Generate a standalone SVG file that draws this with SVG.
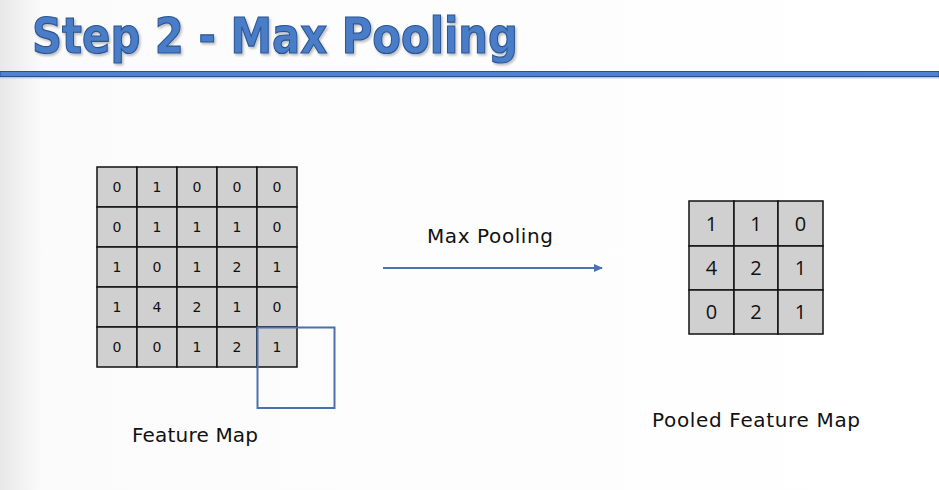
<svg xmlns="http://www.w3.org/2000/svg" width="939" height="490" viewBox="0 0 939 490">
<defs>
<linearGradient id="bg" x1="0" y1="0" x2="1" y2="0">
<stop offset="0" stop-color="#e8e8e8"/>
<stop offset="0.045" stop-color="#fbfbfb"/>
<stop offset="1" stop-color="#ffffff"/>
</linearGradient>
<marker id="ah" markerWidth="10" markerHeight="10" refX="8" refY="4" orient="auto" markerUnits="userSpaceOnUse">
<path d="M0,0 L9,4 L0,8 Z" fill="#4a72b5"/>
</marker>
<filter id="sh" filterUnits="userSpaceOnUse" x="0" y="0" width="600" height="70">
<feDropShadow dx="1.5" dy="2" stdDeviation="1.2" flood-color="#000" flood-opacity="0.25"/>
</filter>
</defs>
<style>
.cell{fill:#d0d0d0;stroke:#111;stroke-width:1.5}
.fd{font-family:"DejaVu Sans",sans-serif;font-size:14px;fill:#111;text-anchor:middle}
.pd{font-family:"Open Sans","Liberation Sans",sans-serif;font-size:20px;fill:#111;text-anchor:middle}
.lbl{font-family:"DejaVu Sans",sans-serif;font-size:20px;fill:#111}
</style>
<rect width="939" height="490" fill="url(#bg)"/>
<g id="title">
<text x="32" y="53" font-family="'DejaVu Sans',sans-serif" font-weight="bold" font-size="49" textLength="486" lengthAdjust="spacingAndGlyphs" fill="#4a7dc7" stroke="#2b5592" stroke-width="1.2" filter="url(#sh)">Step 2 - Max Pooling</text>
<rect x="0" y="71.5" width="939" height="5" fill="#4f82d2" stroke="#2a4e8e" stroke-width="1"/>
<rect x="0" y="77" width="939" height="1.5" fill="#b9cbe6"/>
</g>
<g id="feature-map">
<rect class="cell" x="97" y="167" width="40" height="40"/><rect class="cell" x="137" y="167" width="40" height="40"/><rect class="cell" x="177" y="167" width="40" height="40"/><rect class="cell" x="217" y="167" width="40" height="40"/><rect class="cell" x="257" y="167" width="40" height="40"/>
<rect class="cell" x="97" y="207" width="40" height="40"/><rect class="cell" x="137" y="207" width="40" height="40"/><rect class="cell" x="177" y="207" width="40" height="40"/><rect class="cell" x="217" y="207" width="40" height="40"/><rect class="cell" x="257" y="207" width="40" height="40"/>
<rect class="cell" x="97" y="247" width="40" height="40"/><rect class="cell" x="137" y="247" width="40" height="40"/><rect class="cell" x="177" y="247" width="40" height="40"/><rect class="cell" x="217" y="247" width="40" height="40"/><rect class="cell" x="257" y="247" width="40" height="40"/>
<rect class="cell" x="97" y="287" width="40" height="40"/><rect class="cell" x="137" y="287" width="40" height="40"/><rect class="cell" x="177" y="287" width="40" height="40"/><rect class="cell" x="217" y="287" width="40" height="40"/><rect class="cell" x="257" y="287" width="40" height="40"/>
<rect class="cell" x="97" y="327" width="40" height="40"/><rect class="cell" x="137" y="327" width="40" height="40"/><rect class="cell" x="177" y="327" width="40" height="40"/><rect class="cell" x="217" y="327" width="40" height="40"/><rect class="cell" x="257" y="327" width="40" height="40"/>
<text class="fd" x="117" y="192">0</text><text class="fd" x="157" y="192">1</text><text class="fd" x="197" y="192">0</text><text class="fd" x="237" y="192">0</text><text class="fd" x="277" y="192">0</text>
<text class="fd" x="117" y="232">0</text><text class="fd" x="157" y="232">1</text><text class="fd" x="197" y="232">1</text><text class="fd" x="237" y="232">1</text><text class="fd" x="277" y="232">0</text>
<text class="fd" x="117" y="272">1</text><text class="fd" x="157" y="272">0</text><text class="fd" x="197" y="272">1</text><text class="fd" x="237" y="272">2</text><text class="fd" x="277" y="272">1</text>
<text class="fd" x="117" y="312">1</text><text class="fd" x="157" y="312">4</text><text class="fd" x="197" y="312">2</text><text class="fd" x="237" y="312">1</text><text class="fd" x="277" y="312">0</text>
<text class="fd" x="117" y="352">0</text><text class="fd" x="157" y="352">0</text><text class="fd" x="197" y="352">1</text><text class="fd" x="237" y="352">2</text><text class="fd" x="277" y="352">1</text>
<rect x="257.5" y="327.5" width="77" height="80.5" fill="none" stroke="#4a70b0" stroke-width="2"/>
<text class="lbl" x="132" y="442" textLength="126">Feature Map</text>
</g>
<g id="pooled-map">
<rect class="cell" x="689" y="201" width="45" height="45"/><rect class="cell" x="734" y="201" width="44" height="45"/><rect class="cell" x="778" y="201" width="45" height="45"/>
<rect class="cell" x="689" y="246" width="45" height="44"/><rect class="cell" x="734" y="246" width="44" height="44"/><rect class="cell" x="778" y="246" width="45" height="44"/>
<rect class="cell" x="689" y="290" width="45" height="44"/><rect class="cell" x="734" y="290" width="44" height="44"/><rect class="cell" x="778" y="290" width="45" height="44"/>
<text class="pd" x="711.5" y="230.5">1</text><text class="pd" x="756" y="230.5">1</text><text class="pd" x="800.5" y="230.5">0</text>
<text class="pd" x="711.5" y="275">4</text><text class="pd" x="756" y="275">2</text><text class="pd" x="800.5" y="275">1</text>
<text class="pd" x="711.5" y="319">0</text><text class="pd" x="756" y="319">2</text><text class="pd" x="800.5" y="319">1</text>
<text class="lbl" x="652" y="427" textLength="208">Pooled Feature Map</text>
</g>
<g id="connectors">
<line x1="383" y1="268" x2="602" y2="268" stroke="#4a72b5" stroke-width="2" marker-end="url(#ah)"/>
<text class="lbl" x="427" y="243" textLength="126">Max Pooling</text>
</g>
</svg>
